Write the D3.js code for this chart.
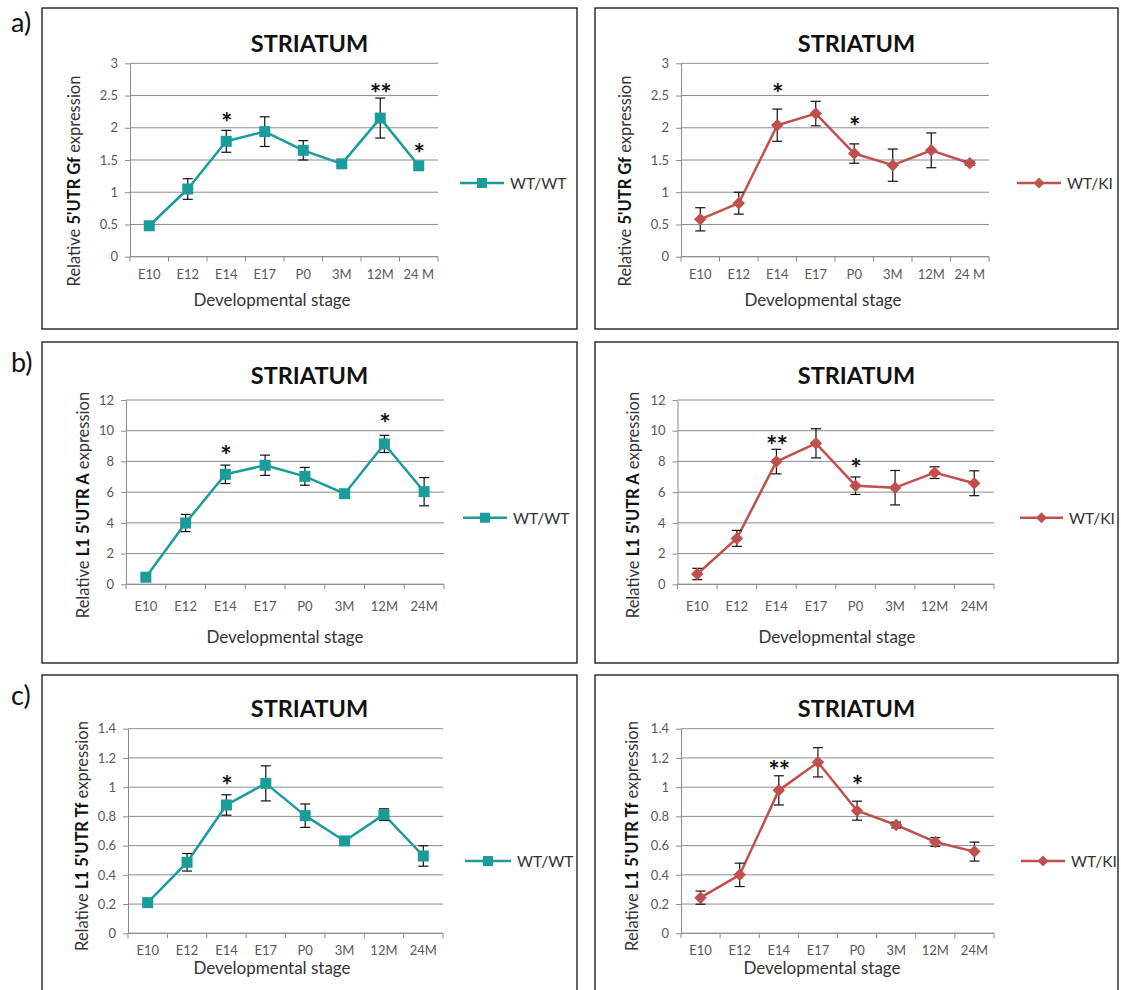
<!DOCTYPE html>
<html>
<head>
<meta charset="utf-8">
<script src="https://cdn.jsdelivr.net/npm/d3@7"></script>
<style>
  body { margin: 0; background: #fff; }
  text { font-family: Lato, "Open Sans", sans-serif; }
</style>
</head>
<body>
<div id="chart"></div>
<script>
// categories
const stagesA = ['E10', 'E12', 'E14', 'E17', 'P0', '3M', '12M', '24 M'];
const stagesBC = ['E10', 'E12', 'E14', 'E17', 'P0', '3M', '12M', '24M'];

// a) 5'UTR Gf
const gfWT = [0.48, 1.05, 1.79, 1.94, 1.65, 1.44, 2.15, 1.41];
const gfWTErr = [0.02, 0.16, 0.17, 0.23, 0.15, 0.03, 0.31, 0.03];
const gfWTStars = [['E14', '*', 2.16], ['12M', '**', 2.61], ['24 M', '*', 1.69]];
const gfKI = [0.58, 0.83, 2.04, 2.22, 1.60, 1.42, 1.65, 1.45];
const gfKIErr = [0.18, 0.17, 0.25, 0.19, 0.15, 0.25, 0.27, 0.03];
const gfKIStars = [['E14', '*', 2.61], ['P0', '*', 2.11]];

// b) L1 5'UTR A
const aWT = [0.46, 3.99, 7.16, 7.75, 7.03, 5.90, 9.14, 6.03];
const aWTErr = [0.05, 0.56, 0.60, 0.66, 0.58, 0.12, 0.56, 0.92];
const aWTStars = [['E14', '*', 8.74], ['12M', '*', 10.85]];
const aKI = [0.67, 2.99, 7.99, 9.18, 6.42, 6.29, 7.27, 6.58];
const aKIErr = [0.37, 0.52, 0.80, 0.95, 0.57, 1.12, 0.38, 0.81];
const aKIStars = [['E14', '**', 9.39], ['P0', '*', 7.92]];

// c) L1 5'UTR Tf
const tfWT = [0.21, 0.486, 0.878, 1.026, 0.805, 0.632, 0.812, 0.529];
const tfWTErr = [0.01, 0.06, 0.07, 0.12, 0.08, 0.01, 0.04, 0.07];
const tfWTStars = [['E14', '*', 1.046]];
const tfKI = [0.244, 0.40, 0.978, 1.17, 0.839, 0.741, 0.625, 0.559];
const tfKIErr = [0.045, 0.08, 0.10, 0.10, 0.065, 0.02, 0.03, 0.065];
const tfKIStars = [['E14', '**', 1.153], ['P0', '*', 1.046]];

const teal = '#1a9c9a';
const red = '#c0504d';

const svg = d3.select('#chart').append('svg')
  .attr('width', 1121).attr('height', 990);

// row labels
[['a)', 32], ['b)', 372], ['c)', 705]].forEach(([t, yy]) => {
  svg.append('text').attr('x', 11).attr('y', yy).text(t)
    .attr('font-size', 27).attr('fill', '#111');
});

const panels = [
  {cats: stagesA, vals: gfWT, err: gfWTErr, stars: gfWTStars, max: 3, ticks: 6, gene: "5'UTR Gf",
   color: teal, marker: 'square', name: 'WT/WT',
   box: [42, 8, 577, 329], plot: [130, 438, 63.3, 256.7], titleY: 52, yTitle: [80, 181], xTitle: [272, 306],
   tickPad: 13, legend: [460, 504, 183]},
  {cats: stagesA, vals: gfKI, err: gfKIErr, stars: gfKIStars, max: 3, ticks: 6, gene: "5'UTR Gf",
   color: red, marker: 'diamond', name: 'WT/KI',
   box: [595, 8, 1118, 329], plot: [681, 989, 63.3, 256.7], titleY: 52, yTitle: [631, 181], xTitle: [823, 306],
   tickPad: 13, legend: [1017, 1061, 183]},
  {cats: stagesBC, vals: aWT, err: aWTErr, stars: aWTStars, max: 12, ticks: 6, gene: "L1 5'UTR A",
   color: teal, marker: 'square', name: 'WT/WT',
   box: [42, 342, 577, 663], plot: [126, 444, 400, 584.3], titleY: 384, yTitle: [89, 505], xTitle: [285, 643],
   tickPad: 17, legend: [463, 507, 517.7]},
  {cats: stagesBC, vals: aKI, err: aKIErr, stars: aKIStars, max: 12, ticks: 6, gene: "L1 5'UTR A",
   color: red, marker: 'diamond', name: 'WT/KI',
   box: [595, 342, 1118, 663], plot: [677.5, 994, 400, 584.3], titleY: 384, yTitle: [639, 505], xTitle: [837, 643],
   tickPad: 17, legend: [1020, 1063, 517.7]},
  {cats: stagesBC, vals: tfWT, err: tfWTErr, stars: tfWTStars, max: 1.4, ticks: 7, gene: "L1 5'UTR Tf",
   color: teal, marker: 'square', name: 'WT/WT',
   box: [42, 675, 577, 1000], plot: [128, 443, 728.7, 933.3], titleY: 717, yTitle: [88, 836], xTitle: [272, 974],
   tickPad: 12, legend: [465, 511, 861]},
  {cats: stagesBC, vals: tfKI, err: tfKIErr, stars: tfKIStars, max: 1.4, ticks: 7, gene: "L1 5'UTR Tf",
   color: red, marker: 'diamond', name: 'WT/KI',
   box: [595, 675, 1118, 1000], plot: [681, 994, 728.7, 933.3], titleY: 717, yTitle: [638, 836], xTitle: [822, 974],
   tickPad: 12, legend: [1021, 1065, 861]}
];

function markerPath(kind, s) {
  if (kind === 'square') return d3.symbol(d3.symbolSquare, s * s)();
  return d3.symbol(d3.symbolSquare, s * s / 2)();
}

function drawPanel(p) {
  const g = svg.append('g');
  const [l, r, t, b] = p.plot;

  g.append('rect')
    .attr('x', p.box[0]).attr('y', p.box[1])
    .attr('width', p.box[2] - p.box[0]).attr('height', p.box[3] - p.box[1])
    .attr('fill', 'none').attr('stroke', '#111').attr('stroke-width', 1.3);

  const x = d3.scaleBand().domain(p.cats).range([l, r]);
  const y = d3.scaleLinear().domain([0, p.max]).range([b, t]);
  const yTicks = y.ticks(p.ticks);
  const fmt = d3.format('~g');

  // gridlines
  g.append('g').selectAll('line').data(yTicks).join('line')
    .attr('x1', l).attr('x2', r)
    .attr('y1', d => y(d)).attr('y2', d => y(d))
    .attr('stroke', '#8c8c8c').attr('stroke-width', 1);

  // y axis
  const yAxis = g.append('g').attr('transform', `translate(${l},0)`)
    .call(d3.axisLeft(y).tickValues(yTicks).tickFormat(fmt).tickSize(5).tickSizeOuter(0).tickPadding(7));
  yAxis.select('.domain').attr('stroke', '#8c8c8c');
  yAxis.selectAll('.tick line').attr('stroke', '#8c8c8c');
  yAxis.selectAll('.tick text').attr('fill', '#595959').attr('font-size', 13)
    .attr('font-family', 'Lato, sans-serif');

  // x axis: labels centred in bands, ticks at band edges
  const xAxis = g.append('g').attr('transform', `translate(0,${b})`)
    .call(d3.axisBottom(x).tickSize(0).tickPadding(p.tickPad));
  xAxis.select('.domain').remove();
  xAxis.selectAll('.tick text').attr('fill', '#595959').attr('font-size', 13)
    .attr('font-family', 'Lato, sans-serif');
  const edges = p.cats.map(c => x(c)).concat([x.range()[1]]);
  g.append('line').attr('x1', l).attr('x2', r).attr('y1', b).attr('y2', b)
    .attr('stroke', '#8c8c8c');
  g.append('g').selectAll('line').data(edges).join('line')
    .attr('x1', d => d).attr('x2', d => d).attr('y1', b).attr('y2', b + 5)
    .attr('stroke', '#8c8c8c');

  const data = p.cats.map((c, i) => ({c, v: p.vals[i], e: p.err[i]}));
  const cx = d => x(d.c) + x.bandwidth() / 2;

  // series line
  g.append('path').datum(data)
    .attr('d', d3.line().x(cx).y(d => y(d.v)))
    .attr('fill', 'none').attr('stroke', p.color).attr('stroke-width', 2.5)
    .attr('stroke-linejoin', 'round');

  // error bars
  const eb = g.append('g').attr('stroke', '#111').attr('stroke-width', 1.2);
  data.forEach(d => {
    eb.append('line').attr('x1', cx(d)).attr('x2', cx(d))
      .attr('y1', y(d.v - d.e)).attr('y2', y(d.v + d.e));
    [d.v - d.e, d.v + d.e].forEach(v => {
      eb.append('line').attr('x1', cx(d) - 5).attr('x2', cx(d) + 5)
        .attr('y1', y(v)).attr('y2', y(v));
    });
  });

  // markers
  const mSize = p.marker === 'square' ? 11 : 12.5;
  g.append('g').selectAll('path').data(data).join('path')
    .attr('d', markerPath(p.marker, mSize))
    .attr('transform', d => `translate(${cx(d)},${y(d.v)})` + (p.marker === 'diamond' ? ' rotate(45)' : ''))
    .attr('fill', p.color);

  // significance stars
  g.append('g').selectAll('text').data(p.stars).join('text')
    .attr('x', d => x(d[0]) + x.bandwidth() / 2)
    .attr('y', d => y(d[2]) + 15)
    .attr('text-anchor', 'middle').attr('font-size', 27).attr('font-weight', 700)
    .attr('letter-spacing', -1)
    .attr('fill', '#111').text(d => d[1]);

  // title
  g.append('text').attr('x', (p.box[0] + p.box[2]) / 2).attr('y', p.titleY)
    .attr('text-anchor', 'middle').attr('font-size', 23.5).attr('font-weight', 700)
    .attr('fill', '#111').text('STRIATUM');

  // axis titles
  const yt = g.append('text')
    .attr('transform', `translate(${p.yTitle[0]},${p.yTitle[1]}) rotate(-90)`)
    .attr('text-anchor', 'middle').attr('font-size', 16.5).attr('fill', '#333');
  yt.append('tspan').text('Relative ');
  yt.append('tspan').attr('font-weight', 700).attr('fill', '#111').text(p.gene);
  yt.append('tspan').text(' expression');

  g.append('text').attr('x', p.xTitle[0]).attr('y', p.xTitle[1])
    .attr('text-anchor', 'middle').attr('font-size', 17).attr('fill', '#333')
    .text('Developmental stage');

  // legend
  const [lx1, lx2, ly] = p.legend;
  g.append('line').attr('x1', lx1).attr('x2', lx2).attr('y1', ly).attr('y2', ly)
    .attr('stroke', p.color).attr('stroke-width', 2.5);
  g.append('path').attr('d', markerPath(p.marker, p.marker === 'square' ? 10 : 11))
    .attr('transform', `translate(${(lx1 + lx2) / 2},${ly})` + (p.marker === 'diamond' ? ' rotate(45)' : ''))
    .attr('fill', p.color);
  g.append('text').attr('x', lx2 + 6).attr('y', ly + 6)
    .attr('font-size', 15.5).attr('fill', '#333').text(p.name);
}

panels.forEach(drawPanel);
</script>
</body>
</html>
